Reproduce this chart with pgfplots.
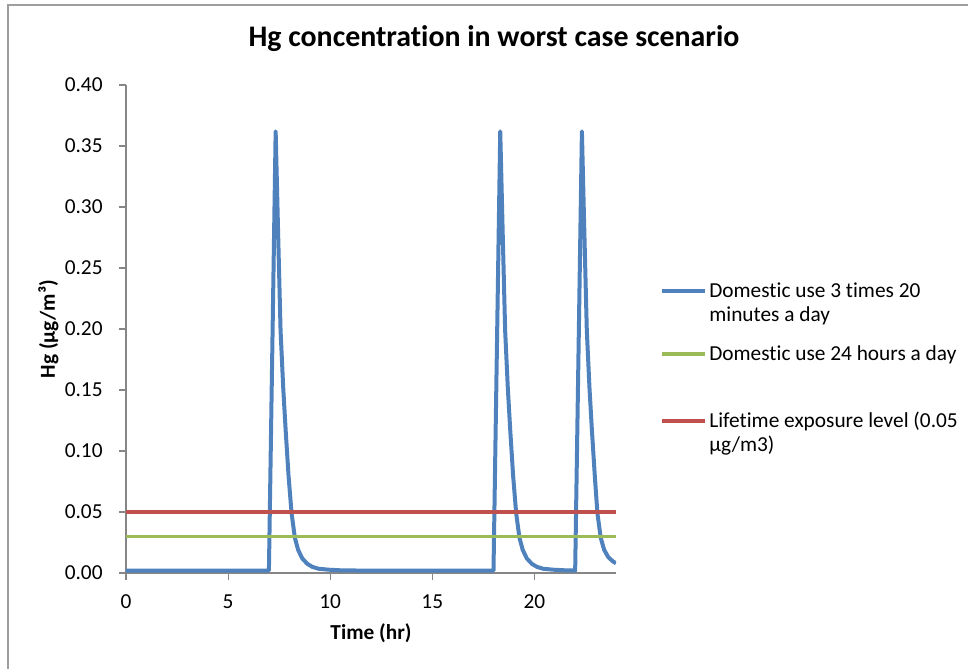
\documentclass[border=0pt]{standalone}
\usepackage{fontspec}
\setmainfont{Carlito}[Ligatures=NoCommon]
\usepackage{pgfplots}
\pgfplotsset{compat=1.18}

\definecolor{xlblue}{HTML}{4F81BD}
\definecolor{xlgreen}{HTML}{9BBB59}
\definecolor{xlred}{HTML}{C0504D}
\definecolor{xlgrey}{HTML}{868686}

\newcommand{\bodyfont}{\fontsize{16}{19}\selectfont}

\begin{document}
\begin{tikzpicture}
\useasboundingbox (0,0) rectangle (726pt,501.75pt);
% chart area frame (only top and left edges are visible)
\draw[xlgrey!80, line width=1pt] (6pt,0pt) -- (6pt,498pt) -- (726pt,498pt);

\begin{axis}[
  scale only axis,
  width=367.5pt, height=366pt,
  at={(94.5pt,72pt)}, anchor=south west,
  xmin=0, xmax=24, ymin=0, ymax=0.4,
  xtick={0,5,10,15,20},
  ytick={0,0.05,0.1,0.15,0.2,0.25,0.3,0.35,0.4},
  axis x line*=bottom, axis y line*=left,
  axis line style={xlgrey, line width=0.8pt, -},
  tick style={xlgrey, line width=0.8pt},
  tick align=outside, major tick length=5pt,
  ticklabel style={font=\bodyfont},
  /pgf/number format/assume math mode=true,
  yticklabel style={xshift=-9pt, /pgf/number format/.cd, fixed, fixed zerofill, precision=2},
  xticklabel style={yshift=-8pt},
  title={Hg concentration in worst case scenario},
  title style={at={(0.751,1.0635)}, anchor=base, font=\fontsize{22.4}{26}\selectfont\bfseries},
  xlabel={Time (hr)},
  xlabel style={at={(0.5,-0.137)}, anchor=base, font=\bodyfont\bfseries},
  ylabel={Hg (µg/m³)},
  ylabel style={at={(-0.145,0.5)}, anchor=base, font=\bodyfont\bfseries},
  legend style={at={(1.0898,0.6024)}, anchor=north west, draw=none, fill=none,
    inner sep=0pt, outer sep=0pt, row sep=0pt, column sep=0pt,
    font=\bodyfont,
    cells={anchor=base west, inner sep=0pt, text height=12pt, text depth=6.75pt}},
  legend image code/.code={\draw[#1] (0pt,5pt) -- (32pt,5pt);},
]
\addplot[xlblue, line width=3pt, line join=round] coordinates {
  (0,0.002) (7.00,0.002) (7.33,0.362) (7.45,0.279) (7.57,0.199) (7.70,0.152)
  (7.82,0.117) (7.96,0.080) (8.11,0.049) (8.27,0.029) (8.43,0.019) (8.63,0.012)
  (8.88,0.0075) (9.13,0.0050) (9.43,0.0035) (9.93,0.0027) (10.53,0.0022)
  (11.5,0.002) (18.00,0.002) (18.33,0.362) (18.45,0.279) (18.57,0.199)
  (18.70,0.152) (18.82,0.117) (18.96,0.080) (19.11,0.049) (19.27,0.029)
  (19.43,0.019) (19.63,0.012) (19.88,0.0075) (20.13,0.0050) (20.43,0.0035)
  (20.93,0.0027) (21.53,0.0022) (22.00,0.002) (22.33,0.362) (22.45,0.279)
  (22.57,0.199) (22.70,0.152) (22.82,0.117) (22.96,0.080) (23.09,0.049)
  (23.25,0.029) (23.42,0.019) (23.62,0.013) (23.85,0.0095) (24.00,0.008)
};
\addlegendentry{Domestic use 3 times 20}
\addlegendimage{empty legend}
\addlegendentry[text depth=13.5pt]{minutes a day}
\addplot[xlgreen, line width=2.8pt] coordinates {(0,0.03) (24,0.03)};
\addlegendentry[text depth=34.5pt]{Domestic use 24 hours a day}
\addplot[xlred, line width=2.8pt] coordinates {(0,0.05) (24,0.05)};
\addlegendentry{Lifetime exposure level (0.05}
\addlegendimage{empty legend}
\addlegendentry{µg/m3)}
\end{axis}
\end{tikzpicture}
\end{document}
